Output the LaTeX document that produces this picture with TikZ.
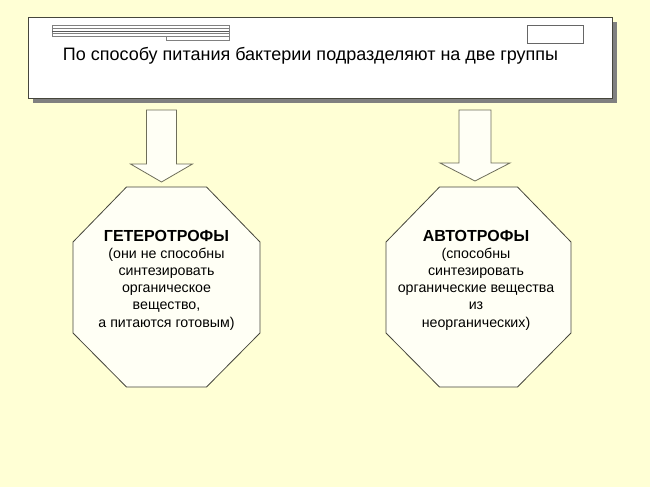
\documentclass[tikz,border=0pt]{standalone}
\usepackage{fontspec}
\setmainfont{Liberation Sans}
\usetikzlibrary{calc}
\definecolor{bg}{RGB}{255,255,213}
\definecolor{shadowc}{RGB}{128,128,128}
\definecolor{edgec}{RGB}{70,70,60}
\definecolor{arrowc}{RGB}{110,110,90}
\definecolor{shapefill}{RGB}{255,255,245}
\newcommand{\octhead}[1]{{\fontsize{16}{17.2}\selectfont\bfseries #1}}
\tikzset{
  octtext/.style={align=center, font=\fontsize{14.2}{17.2}\selectfont, inner sep=0},
  blockarrow/.style={draw=arrowc, fill=shapefill, line width=0.8pt, line join=miter},
  octagon/.style={draw=edgec, fill=shapefill, line width=0.8pt},
  deco/.style={draw=gray, line width=0.6pt}
}
\begin{document}
\begin{tikzpicture}[x=1pt,y=-1pt]
\fill[bg] (0,0) rectangle (650,487);
\useasboundingbox (0,0) rectangle (650,487);
% header box with shadow
\fill[shadowc] (33,22) rectangle (617,103);
\node[draw=edgec, fill=white, line width=0.8pt, minimum width=584pt, minimum height=81pt, anchor=north west, inner sep=0] (top) at (28,17) {};
% decorative lines
\draw[deco] (52,25) rectangle (229,36);
\draw[deco] (52,28) -- (229,28);
\draw[draw=gray!70!black, line width=0.8pt] (52,31) -- (229,31);
\draw[deco] (52,33.5) -- (229,33.5);
\draw[deco] (166,36) rectangle (229,40);
\node[draw=gray!80!black, line width=0.6pt, fill=white, minimum width=56pt, minimum height=18pt, inner sep=0] (tag) at (555,34) {};
\node[font=\fontsize{18}{21}\selectfont, inner sep=0] (title) at (310.5,56) {По способу питания бактерии подразделяют на две группы};
% octagons
\coordinate (hc) at (166.5,287);
\coordinate (ac) at (478.5,287);
\draw[octagon] ($(hc)+(-40,-100)$) -- ($(hc)+(40,-100)$) -- ($(hc)+(93.5,-45)$) -- ($(hc)+(93.5,46)$) -- ($(hc)+(40,100)$) -- ($(hc)+(-40,100)$) -- ($(hc)+(-93.5,46)$) -- ($(hc)+(-93.5,-45)$) -- cycle;
\draw[octagon] ($(ac)+(-39,-100)$) -- ($(ac)+(39,-100)$) -- ($(ac)+(92.5,-45)$) -- ($(ac)+(92.5,46)$) -- ($(ac)+(39,100)$) -- ($(ac)+(-39,100)$) -- ($(ac)+(-92.5,46)$) -- ($(ac)+(-92.5,-45)$) -- cycle;
\node[octtext] (het) at (166.5,280) {\octhead{ГЕТЕРОТРОФЫ}\\(они не способны\\синтезировать\\органическое\\вещество,\\а питаются готовым)};
\node[octtext] (aut) at (476,280) {\octhead{АВТОТРОФЫ}\\(способны\\синтезировать\\органические вещества\\из\\неорганических)};
% block arrows from header to octagons
\coordinate (la) at (161.5,110);
\coordinate (ra) at (475,110);
\draw[blockarrow] ($(la)+(-15,0)$) -- ($(la)+(15,0)$) -- ($(la)+(15,54)$) -- ($(la)+(31,54)$) -- ($(la)+(0,72)$) -- ($(la)+(-31,54)$) -- ($(la)+(-15,54)$) -- cycle;
\draw[blockarrow] ($(ra)+(-16,0)$) -- ($(ra)+(16,0)$) -- ($(ra)+(16,53)$) -- ($(ra)+(35,53)$) -- ($(ra)+(0,71)$) -- ($(ra)+(-35,53)$) -- ($(ra)+(-16,53)$) -- cycle;
\end{tikzpicture}
\end{document}
